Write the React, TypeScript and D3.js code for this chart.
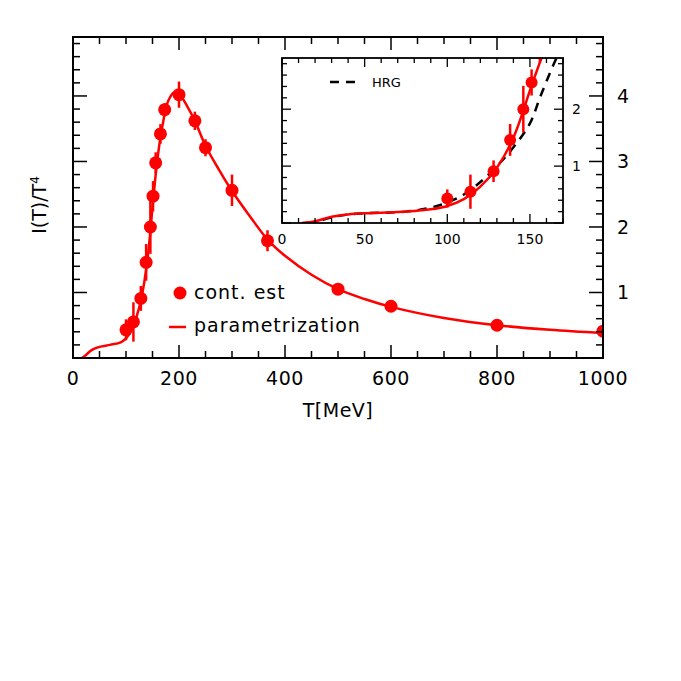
import React from "react";
import * as d3 from "d3";

// ---- data ----
const pointT = [100, 114, 128, 138, 146, 151, 156, 165, 173, 200, 230, 250, 300, 367, 500, 600, 800, 1000];
const pointY = [0.43, 0.55, 0.91, 1.46, 2.0, 2.47, 2.98, 3.42, 3.79, 4.02, 3.62, 3.21, 2.56, 1.79, 1.05, 0.79, 0.5, 0.41];
const pointErr = [0.16, 0.3, 0.19, 0.28, 0.41, 0.23, 0.16, 0.15, 0.1, 0.2, 0.14, 0.13, 0.24, 0.16, 0.03, 0.03, 0.03, 0.03];

const paramT = [17, 25, 35, 50, 70, 90, 100, 110, 120, 130, 140, 145, 150, 155, 160, 165, 170, 175, 180, 190, 200, 215, 230, 250, 275, 300, 335, 368, 400, 450, 500, 550, 600, 700, 800, 900, 1000];
const paramY = [0, 0.05, 0.12, 0.17, 0.2, 0.24, 0.3, 0.42, 0.63, 0.95, 1.47, 1.85, 2.3, 2.72, 3.08, 3.37, 3.6, 3.8, 3.93, 4.05, 4.03, 3.85, 3.62, 3.24, 2.88, 2.55, 2.15, 1.8, 1.56, 1.27, 1.05, 0.9, 0.78, 0.61, 0.5, 0.43, 0.38];

const insetParamT = [12, 20, 30, 40, 50, 60, 75, 90, 100, 110, 120, 130, 140, 150, 152, 157, 162];
const insetParamY = [0, 0.03, 0.11, 0.15, 0.17, 0.18, 0.2, 0.24, 0.3, 0.42, 0.64, 0.97, 1.5, 2.33, 2.5, 2.9, 3.3];

const hrgT = [15, 20, 30, 40, 50, 75, 90, 100, 110, 120, 130, 140, 150, 156, 163, 166, 170];
const hrgY = [0, 0.02, 0.1, 0.15, 0.17, 0.2, 0.27, 0.36, 0.5, 0.72, 1.0, 1.33, 1.75, 2.2, 2.7, 2.9, 3.2];

const mainXTicks = [0, 200, 400, 600, 800, 1000];
const mainYTicks = [1, 2, 3, 4];
const insetXTicks = [0, 50, 100, 150];
const insetYTicks = [1, 2];

const RED = "#ff0000";
const FONT = "DejaVu Sans, sans-serif";

export default function App() {
  // main scales
  const x = d3.scaleLinear().domain([0, 1000]).range([73, 603]);
  const y = d3.scaleLinear().domain([0, 4.9]).range([358, 37]);
  // inset scales
  const ix = d3.scaleLinear().domain([0, 170]).range([282, 563]);
  const iy = d3.scaleLinear().domain([0, 2.9]).range([223, 58]);

  const mainLine = d3
    .line<number>()
    .x((_, i) => x(paramT[i]))
    .y((d) => y(d))
    .curve(d3.curveCatmullRom.alpha(0.5));
  const insetLine = d3
    .line<number>()
    .x((_, i) => ix(insetParamT[i]))
    .y((d) => iy(d))
    .curve(d3.curveCatmullRom.alpha(0.5));
  const hrgLine = d3
    .line<number>()
    .x((_, i) => ix(hrgT[i]))
    .y((d) => iy(d))
    .curve(d3.curveCatmullRom.alpha(0.5));

  const mainXMinor = d3.range(0, 1001, 50);
  const mainYMinor = d3.range(0, 4.9001, 0.2);
  const insetXMinor = d3.range(0, 171, 10);
  const insetYMinor = d3.range(0, 2.9001, 0.2);

  const isMajor = (v: number, step: number) => Math.abs(v / step - Math.round(v / step)) < 1e-6;

  return (
    <svg
      width={681}
      height={681}
      style={{ position: "absolute", left: 0, top: 0, background: "#fff" }}
      fontFamily={FONT}
    >
      <defs>
        <clipPath id="mainClip">
          <rect x={73} y={37} width={530} height={321} />
        </clipPath>
        <clipPath id="insetClip">
          <rect x={282} y={58} width={281} height={165} />
        </clipPath>
      </defs>
      <rect x={0} y={0} width={681} height={681} fill="#fff" />

      {/* main plot content */}
      <g clipPath="url(#mainClip)">
        <path d={mainLine(paramY) || ""} fill="none" stroke={RED} strokeWidth={2.5} />
        {pointT.map((t, i) => (
          <line
            key={"e" + i}
            x1={x(t)}
            x2={x(t)}
            y1={y(pointY[i] - pointErr[i])}
            y2={y(pointY[i] + pointErr[i])}
            stroke={RED}
            strokeWidth={2.5}
          />
        ))}
        {pointT.map((t, i) => (
          <circle key={"p" + i} cx={x(t)} cy={y(pointY[i])} r={6.5} fill={RED} />
        ))}
      </g>

      {/* main frame */}
      <rect x={73} y={37} width={530} height={321} fill="none" stroke="#000" strokeWidth={2} />
      {mainXMinor.map((v) => {
        const L = isMajor(v, 200) ? 13 : 7;
        return (
          <g key={"mx" + v}>
            <line x1={x(v)} x2={x(v)} y1={358} y2={358 - L} stroke="#000" strokeWidth={1.5} />
            <line x1={x(v)} x2={x(v)} y1={37} y2={37 + L} stroke="#000" strokeWidth={1.5} />
          </g>
        );
      })}
      {mainYMinor.map((v) => {
        const L = isMajor(v, 1) ? 14 : 7;
        return (
          <g key={"my" + v.toFixed(1)}>
            <line x1={73} x2={73 + L} y1={y(v)} y2={y(v)} stroke="#000" strokeWidth={1.5} />
            <line x1={603} x2={603 - L} y1={y(v)} y2={y(v)} stroke="#000" strokeWidth={1.5} />
          </g>
        );
      })}
      {mainXTicks.map((v) => (
        <text key={"mxl" + v} x={x(v)} y={385} textAnchor="middle" fontSize={19} letterSpacing={0.5} fill="#000">
          {v}
        </text>
      ))}
      {mainYTicks.map((v) => (
        <text key={"myl" + v} x={617} y={y(v) + 7} textAnchor="start" fontSize={19} fill="#000">
          {v}
        </text>
      ))}
      <text x={338} y={417} textAnchor="middle" fontSize={19} letterSpacing={0.5} fill="#000">
        T[MeV]
      </text>
      <text
        transform="translate(46,205) rotate(-90)"
        textAnchor="middle"
        fontSize={19}
        fill="#000"
      >
        I(T)/T
        <tspan dy={-7} fontSize={12}>
          4
        </tspan>
      </text>

      {/* legend */}
      <circle cx={180} cy={293} r={6.5} fill={RED} />
      <text x={194} y={299} fontSize={19} letterSpacing={1} fill="#000">
        cont. est
      </text>
      <line x1={169} x2={186} y1={327} y2={327} stroke={RED} strokeWidth={2.5} />
      <text x={194} y={332} fontSize={19} letterSpacing={1} fill="#000">
        parametrization
      </text>

      {/* inset */}
      <rect x={282} y={58} width={281} height={165} fill="#fff" />
      <g clipPath="url(#insetClip)">
        <path d={hrgLine(hrgY) || ""} fill="none" stroke="#000" strokeWidth={2.5} strokeDasharray="9,7" />
        <path d={insetLine(insetParamY) || ""} fill="none" stroke={RED} strokeWidth={2.5} />
        {pointT.map((t, i) => (
          <line
            key={"ie" + i}
            x1={ix(t)}
            x2={ix(t)}
            y1={iy(pointY[i] - pointErr[i])}
            y2={iy(pointY[i] + pointErr[i])}
            stroke={RED}
            strokeWidth={2.5}
          />
        ))}
        {pointT.map((t, i) => (
          <circle key={"ip" + i} cx={ix(t)} cy={iy(pointY[i])} r={6} fill={RED} />
        ))}
      </g>
      <rect x={282} y={58} width={281} height={165} fill="none" stroke="#000" strokeWidth={1.8} />
      {insetXMinor.map((v) => {
        const L = isMajor(v, 50) ? 9 : 5;
        return (
          <g key={"ix" + v}>
            <line x1={ix(v)} x2={ix(v)} y1={223} y2={223 - L} stroke="#000" strokeWidth={1.3} />
            <line x1={ix(v)} x2={ix(v)} y1={58} y2={58 + L} stroke="#000" strokeWidth={1.3} />
          </g>
        );
      })}
      {insetYMinor.map((v) => {
        const L = isMajor(v, 1) ? 9 : 5;
        return (
          <g key={"iy" + v.toFixed(1)}>
            <line x1={282} x2={282 + L} y1={iy(v)} y2={iy(v)} stroke="#000" strokeWidth={1.3} />
            <line x1={563} x2={563 - L} y1={iy(v)} y2={iy(v)} stroke="#000" strokeWidth={1.3} />
          </g>
        );
      })}
      {insetXTicks.map((v) => (
        <text key={"ixl" + v} x={ix(v)} y={244} textAnchor="middle" fontSize={14} fill="#000">
          {v}
        </text>
      ))}
      {insetYTicks.map((v) => (
        <text key={"iyl" + v} x={572} y={iy(v) + 5} textAnchor="start" fontSize={14} fill="#000">
          {v}
        </text>
      ))}
      {/* HRG legend */}
      <line x1={330} x2={357} y1={82} y2={82} stroke="#000" strokeWidth={2.5} strokeDasharray="9,7" />
      <text x={372} y={87} fontSize={13} fill="#000">
        HRG
      </text>
    </svg>
  );
}
